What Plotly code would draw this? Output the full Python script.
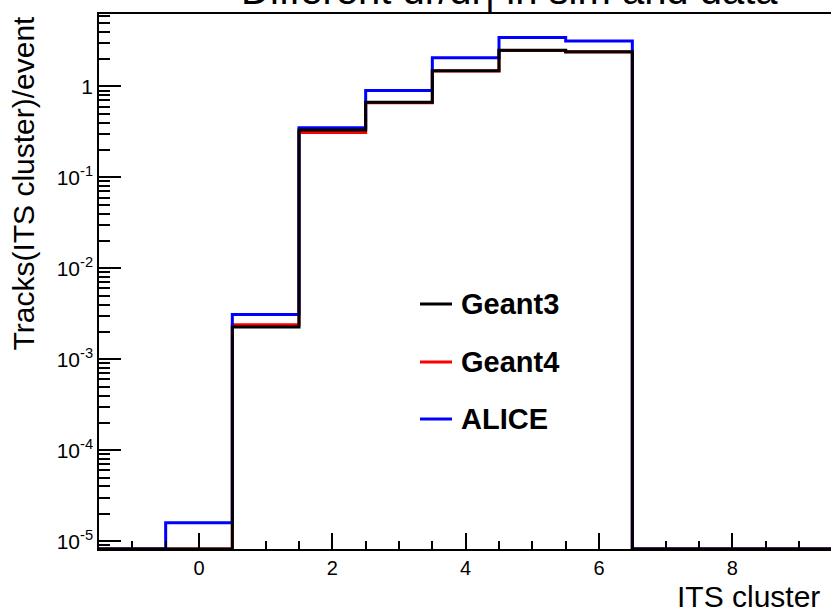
import numpy as np
import plotly.graph_objects as go

# ---- data (histogram contents per ITS-cluster bin) ----
bin_centers = [-1, 0, 1, 2, 3, 4, 5, 6, 7, 8, 9, 10]
geant3 = [0, 0, 2.27e-3, 0.331, 0.67, 1.48, 2.50, 2.40, 0, 0, 0, 0]
geant4 = [0, 0, 2.40e-3, 0.310, 0.66, 1.47, 2.48, 2.38, 0, 0, 0, 0]
alice = [0, 1.6e-5, 3.1e-3, 0.351, 0.90, 2.06, 3.45, 3.15, 0, 0, 0, 0]
series_names = ["Geant3", "Geant4", "ALICE"]
series_colors = {"Geant3": "#000000", "Geant4": "#ff0000", "ALICE": "#0000ff"}

x_tick_vals = [0, 2, 4, 6, 8]
y_tick_vals = [1e-5, 1e-4, 1e-3, 1e-2, 1e-1, 1]
y_tick_text = ["10<sup>-5</sup>", "10<sup>-4</sup>", "10<sup>-3</sup>",
               "10<sup>-2</sup>", "10<sup>-1</sup>", "1"]

LOG_YMIN, LOG_YMAX = -5.085, 0.795
XMIN, XMAX = -1.5, 9.48
FLOOR = 10 ** LOG_YMIN  # empty bins drawn on the frame bottom (ROOT style)

data = {"Geant3": geant3, "Geant4": geant4, "ALICE": alice}


def step_xy(centers, vals):
    edges = [c - 0.5 for c in centers] + [centers[-1] + 0.5]
    v = [val if val > 0 else FLOOR for val in vals]
    return edges, v + [v[-1]]


fig = go.Figure()
for name in ["Geant4", "ALICE", "Geant3"]:
    xs, ys = step_xy(bin_centers, data[name])
    fig.add_trace(go.Scatter(x=xs, y=ys, mode="lines", line_shape="hv",
                             line=dict(color=series_colors[name], width=3),
                             name=name, showlegend=False, cliponaxis=False))

minor_y = [k * 10.0 ** d for d in range(-6, 1) for k in range(2, 10)
           if LOG_YMIN <= np.log10(k * 10.0 ** d) <= LOG_YMAX]

font = "Liberation Sans, Arial, sans-serif"
fig.update_layout(
    width=831, height=613,
    margin=dict(l=99, r=0, t=14, b=64),
    plot_bgcolor="white", paper_bgcolor="white",
    font=dict(family=font, color="black"),
    xaxis=dict(range=[XMIN, XMAX], tickvals=x_tick_vals, ticks="inside",
               ticklen=16, tickwidth=1.5, tickcolor="black",
               showline=True, linecolor="black", linewidth=1.5, mirror=True,
               showgrid=False, zeroline=False,
               tickfont=dict(size=20),
               minor=dict(dtick=0.5, tick0=0, ticks="inside", ticklen=8,
                          tickwidth=1.5, tickcolor="black", showgrid=False)),
    yaxis=dict(type="log", range=[LOG_YMIN, LOG_YMAX], tickvals=y_tick_vals,
               ticktext=y_tick_text, ticks="inside", ticklen=22,
               tickwidth=1.5, tickcolor="black",
               showline=True, linecolor="black", linewidth=1.5,
               showgrid=False, zeroline=False,
               tickfont=dict(size=21),
               minor=dict(tickvals=minor_y, ticks="inside", ticklen=11,
                          tickwidth=1.5, tickcolor="black", showgrid=False)),
)

# title (partly clipped at top, as in the reference)
fig.add_annotation(text="Different dr/dr| in sim and data", xref="paper",
                   yref="paper", x=0.561, y=1, xanchor="center", yanchor="bottom",
                   yshift=0, showarrow=False, font=dict(size=40, family=font))
# axis titles
fig.add_annotation(text="Tracks(ITS cluster)/event", xref="paper", yref="paper",
                   x=0, y=1, xanchor="center", yanchor="top", xshift=-76,
                   textangle=-90, showarrow=False, font=dict(size=30, family=font))
fig.add_annotation(text="ITS cluster", xref="paper", yref="paper", x=1, y=0,
                   xanchor="right", yanchor="top", xshift=-9, yshift=-29,
                   showarrow=False, font=dict(size=30, family=font))

# legend drawn manually
leg_y_px = [304, 362, 419]
for name, py in zip(series_names, leg_y_px):
    yp = (549 - py) / 535
    fig.add_shape(type="line", xref="paper", yref="paper",
                  x0=(420 - 99) / 732, x1=(452 - 99) / 732, y0=yp, y1=yp,
                  line=dict(color=series_colors[name], width=3))
    fig.add_annotation(text="<b>" + name + "</b>", xref="paper", yref="paper",
                       x=(459 - 99) / 732, y=yp, xanchor="left", yanchor="middle",
                       showarrow=False, font=dict(size=29, family=font))

fig.write_html("out.html")
